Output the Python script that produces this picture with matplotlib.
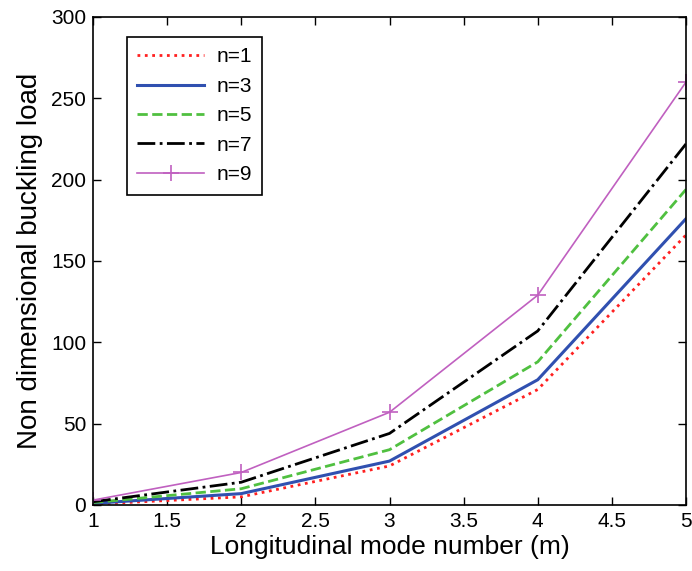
import matplotlib
matplotlib.use("Agg")
import matplotlib.pyplot as plt

plt.rcParams['font.family'] = ['Liberation Sans', 'DejaVu Sans']

m = [1, 2, 3, 4, 5]
n1 = [0.5, 5, 24, 71, 166]
n3 = [1, 7, 27, 77, 176]
n5 = [1.5, 10, 34, 88, 194]
n7 = [2, 14, 44, 107, 222]
n9 = [3, 20, 57, 129, 260]

xticks = [1, 1.5, 2, 2.5, 3, 3.5, 4, 4.5, 5]
xticklabels = ['1', '1.5', '2', '2.5', '3', '3.5', '4', '4.5', '5']
yticks = [0, 50, 100, 150, 200, 250, 300]

fig = plt.figure(figsize=(6.92, 5.71), dpi=100)
ax = fig.add_axes([93/692, 1-505/571, (686-93)/692, (505-17)/571])

ax.plot(m, n1, color='#ff2020', linestyle=':', linewidth=2, label='n=1')
ax.plot(m, n3, color='#3050b0', linestyle='-', linewidth=2.2, label='n=3')
ax.plot(m, n5, color='#50c040', linestyle='--', linewidth=2, label='n=5')
ax.plot(m, n7, color='black', linestyle='-.', linewidth=2, label='n=7')
ax.plot(m, n9, color='#c060c0', linestyle='-', linewidth=1.2, marker='+',
        markersize=12, markeredgewidth=1.2, label='n=9')

ax.set_xlim(1, 5)
ax.set_ylim(0, 300)
ax.set_xticks(xticks)
ax.set_xticklabels(xticklabels)
ax.set_yticks(yticks)
ax.tick_params(direction='in', top=True, right=True, labelsize=15, length=6, width=1, pad=5)
for s in ax.spines.values():
    s.set_linewidth(1.2)
ax.set_xlabel('Longitudinal mode number (m)', fontsize=19, labelpad=3)
ax.set_ylabel('Non dimensional buckling load', fontsize=20, labelpad=6)

leg = ax.legend(loc='upper left', bbox_to_anchor=(0.057, 0.959), fontsize=15,
                frameon=True, fancybox=False, edgecolor='black', framealpha=1,
                handlelength=3.2, borderpad=0.5, labelspacing=0.5,
                borderaxespad=0, handletextpad=0.6)
leg.get_frame().set_linewidth(1.2)

fig.savefig('out.png', dpi=100)
